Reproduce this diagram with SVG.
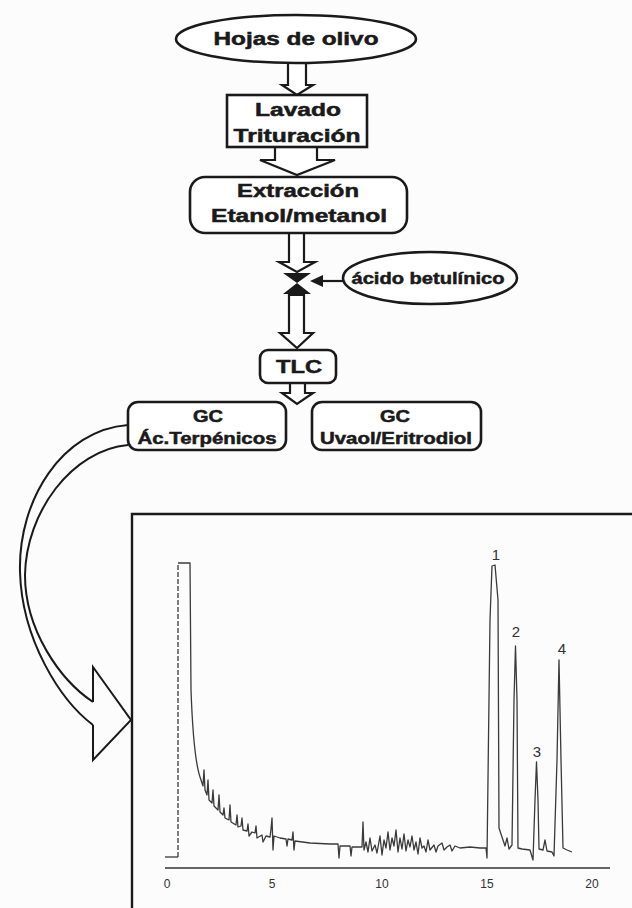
<svg xmlns="http://www.w3.org/2000/svg" width="632" height="908" viewBox="0 0 632 908">
<style>
.bx{fill:#fff;stroke:#1a1a1a;stroke-width:2.6}
.ar{fill:#fff;stroke:#1a1a1a;stroke-width:2.2;stroke-linejoin:miter}
.t{font-family:"Liberation Sans",Arial,sans-serif;font-weight:bold;fill:#1a1a1a;stroke:#1a1a1a;stroke-width:0.5;text-anchor:middle}
.n{font-family:"Liberation Sans",Arial,sans-serif;fill:#333;text-anchor:middle}
.tr{fill:none;stroke:#3a3a3a;stroke-width:1.3;stroke-linejoin:round}
</style>
<rect width="632" height="908" fill="#fcfcfc"/>
<g id="connectors">
<polygon class="ar" points="288,62 306,62 306,85 313,85 297,95 282,85 288,85"/>
<polygon class="ar" points="275,147 317,147 317,160 335,160 297,175 260,160 275,160"/>
<polygon class="ar" points="289,233 304,233 304,262 315,262 297,272 279,262 289,262"/>
<path d="M283,273 L311,273 L297,283 Z M283,294 L311,294 L297,283 Z" fill="#1a1a1a"/>
<polygon class="ar" points="289,295 304,295 304,333 313,333 297,348 280,333 289,333"/>
<line x1="343" y1="281" x2="318" y2="281" stroke="#1a1a1a" stroke-width="2.2"/>
<polygon points="310,281 323,275 323,287" fill="#1a1a1a"/>
<polygon class="ar" points="290,383 305,383 305,393 313,393 297,404 282,393 290,393"/>
<g id="curved-arrow" fill="none" stroke="#1a1a1a" stroke-width="2">
<path d="M128,425 C62,430 18,500 20,572 C22,640 60,700 93,725"/>
<path d="M128,445 C72,450 26,512 25,575 C25,630 60,680 93,702"/>
<polyline points="93,702 93,667 131,720 93,760 93,725"/>
</g>
</g>
<g id="n-hojas">
<ellipse class="bx" cx="296" cy="39" rx="120" ry="24"/>
<text class="t" x="296" y="45" font-size="18" textLength="165" lengthAdjust="spacingAndGlyphs">Hojas de olivo</text>
</g>
<g id="n-lavado">
<rect class="bx" x="227" y="95" width="140" height="52"/>
<text class="t" x="298" y="116" font-size="18" textLength="86" lengthAdjust="spacingAndGlyphs">Lavado</text>
<text class="t" x="297" y="142" font-size="18" textLength="127" lengthAdjust="spacingAndGlyphs">Trituración</text>
</g>
<g id="n-extraccion">
<rect class="bx" x="190" y="177" width="217" height="56" rx="15"/>
<text class="t" x="298" y="197" font-size="18" textLength="122" lengthAdjust="spacingAndGlyphs">Extracción</text>
<text class="t" x="299" y="222" font-size="18" textLength="176" lengthAdjust="spacingAndGlyphs">Etanol/metanol</text>
</g>
<g id="n-betulinico">
<ellipse class="bx" cx="430" cy="278" rx="87" ry="26"/>
<text class="t" x="428" y="284" font-size="16" textLength="153" lengthAdjust="spacingAndGlyphs">ácido betulínico</text>
</g>
<g id="n-tlc">
<rect class="bx" x="260" y="350" width="76" height="33" rx="8"/>
<text class="t" x="299" y="373" font-size="18" textLength="46" lengthAdjust="spacingAndGlyphs">TLC</text>
</g>
<g id="n-gc1">
<rect class="bx" x="128" y="402" width="158" height="48" rx="10"/>
<text class="t" x="208" y="422" font-size="16" textLength="30" lengthAdjust="spacingAndGlyphs">GC</text>
<text class="t" x="207" y="444" font-size="16" textLength="139" lengthAdjust="spacingAndGlyphs">Ác.Terpénicos</text>
</g>
<g id="n-gc2">
<rect class="bx" x="312" y="402" width="169" height="48" rx="10"/>
<text class="t" x="395" y="422" font-size="16" textLength="30" lengthAdjust="spacingAndGlyphs">GC</text>
<text class="t" x="396" y="444" font-size="16" textLength="152" lengthAdjust="spacingAndGlyphs">Uvaol/Eritrodiol</text>
</g>
<g id="chromatogram">
<path d="M132,908 V514 H632" fill="none" stroke="#1a1a1a" stroke-width="2.4"/>
<line x1="165" y1="868" x2="610" y2="868" stroke="#333" stroke-width="1.6"/>
<text class="n" x="167" y="888" font-size="12">0</text>
<text class="n" x="272" y="888" font-size="12">5</text>
<text class="n" x="382" y="888" font-size="12">10</text>
<text class="n" x="487" y="888" font-size="12">15</text>
<text class="n" x="592" y="888" font-size="12">20</text>
<path class="tr" d="M165,857 H178"/>
<path class="tr" d="M178,857 V563 H181" stroke-dasharray="5 2"/>
<path class="tr" d="M181,563 L190,563 L191,690 C193,745 196,765 200,777 L203,786 L204,770 L205,790 L207,795 L208,780 L209,800 L212,803 L213,790 L214,806 L218,810 L219,795 L220,812 L223,815 L224,808 L225,818 L229,820 L230,805 L231,822 L236,825 L237,815 L238,827 L241,826 L242,818 L243,830 L247,831 L248,824 L249,836 L252,832 L255,833 L256,826 L257,838 L262,835 L263,842 L266,836 L270,837 L271,829 L272,818 L273,850 L274,836 L280,838 L286,839 L287,846 L288,839 L292,840 L293,832 L294,850 L295,841 L310,843 L330,844 L338,844 L339,858 L340,846 L350,846 L351,856 L352,847 L362,847 L363,822 L364,850 L366,842 L368,852 L370,838 L372,851 L375,845 L377,853 L380,836 L382,855 L384,840 L386,848 L388,832 L390,850 L392,838 L394,846 L396,830 L398,852 L400,838 L402,849 L404,834 L406,851 L408,840 L410,847 L412,836 L414,850 L416,842 L418,854 L420,838 L422,848 L424,846 L426,852 L428,840 L430,850 L434,845 L436,852 L438,846 L442,843 L444,850 L447,847 L450,845 L452,851 L455,846 L460,848 L470,847 L480,848 L486,848 L487,858 L490,620 L492,566 L495,565 L498,600 L499,828 L503,840 L505,846 L507,838 L509,849 L512,845 L514,700 L515.5,646 L517,700 L518,848 L522,849 L530,850 L533,860 L535,800 L536.5,762 L538,800 L539,849 L543,850 L545,840 L547,851 L552,852 L554,856 L557,760 L559,660 L561,760 L563,848 L567,850 L572,852"/>
<text class="n" x="496" y="560" font-size="15">1</text>
<text class="n" x="516" y="637" font-size="15">2</text>
<text class="n" x="537" y="757" font-size="15">3</text>
<text class="n" x="562" y="654" font-size="15">4</text>
</g>
</svg>
